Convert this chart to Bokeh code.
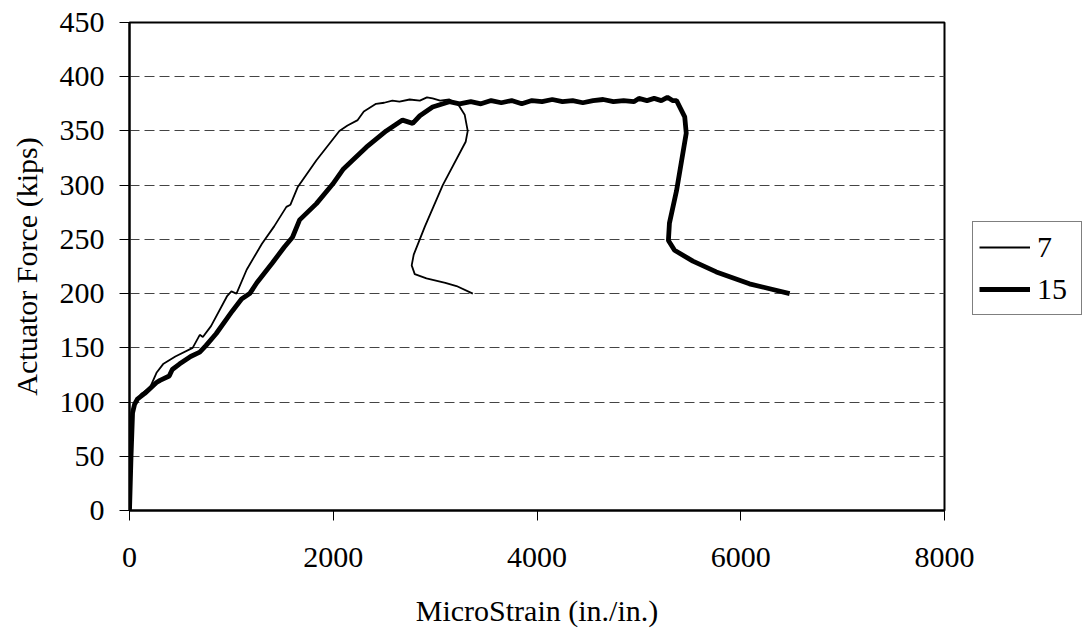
from bokeh.plotting import figure
from bokeh.models import Range1d, FixedTicker, Legend, LegendItem
from bokeh.embed import file_html
from bokeh.resources import INLINE

# ---- data ----
s7_x = [0, 10, 25, 40, 70, 120, 200, 265, 330, 450, 620, 690, 720, 800, 960, 1000, 1050,
        1150, 1300, 1420, 1540, 1580, 1650, 1835, 2060, 2140, 2240, 2300, 2420, 2500, 2580,
        2650, 2750, 2850, 2920, 2975, 3050, 3140, 3230, 3290, 3320, 3300, 3075, 2900, 2790,
        2770, 2800, 2915, 3100, 3210, 3370]
s7_y = [0, 40, 80, 95, 102, 108, 113, 127, 135, 142, 150, 162, 160, 170, 198, 202, 200,
        222, 246, 262, 280, 282, 298, 323, 350, 355, 360, 368, 375, 376, 378,
        377, 379, 378, 381, 380, 378, 379, 374, 365, 350, 340, 300, 262, 236,
        226, 218, 214, 210, 207, 200]

s15_x = [0, 15, 30, 50, 80, 150, 265, 300, 390, 420, 490, 600, 690, 750, 850, 1010, 1100,
         1180, 1250, 1400, 1520, 1600, 1670, 1835, 1995, 2100, 2190, 2325, 2520, 2680, 2780,
         2850, 2975, 3140, 3240, 3350, 3450, 3550, 3650, 3750, 3850, 3950, 4050, 4150, 4250,
         4350, 4450, 4550, 4650, 4750, 4850, 4950, 5000, 5080, 5150, 5220, 5280, 5330, 5370,
         5450, 5465, 5370, 5300, 5290, 5350, 5530, 5760, 6085, 6480]
s15_y = [0, 50, 90, 98, 103, 108, 118, 120, 124, 130, 135, 142, 146, 152, 163, 184, 195,
         200, 210, 228, 243, 252, 268, 283, 301, 315, 323, 335, 350, 360, 357,
         364, 372, 377, 375, 377, 375, 378, 376, 378, 375, 378, 377, 379, 377,
         378, 376, 378, 379, 377, 378, 377, 380, 378, 380, 378, 381, 378, 378,
         363, 348, 295, 265, 249, 240, 230, 220, 209, 200]

x_ticks = [0, 2000, 4000, 6000, 8000]
y_ticks = [0, 50, 100, 150, 200, 250, 300, 350, 400, 450]
series_names = ["7", "15"]

FONT = "Liberation Serif"

p = figure(frame_width=815, frame_height=488,
           min_border_left=129, min_border_right=140, min_border_top=22, min_border_bottom=110,
           x_range=Range1d(0, 8000), y_range=Range1d(0, 450),
           output_backend="svg", toolbar_location=None)
p.background_fill_color = "white"
p.border_fill_color = "white"
p.outline_line_color = "black"
p.outline_line_width = 2

r7 = p.line(s7_x, s7_y, line_color="black", line_width=1.8)
r15 = p.line(s15_x, s15_y, line_color="black", line_width=4.8)

p.xgrid.grid_line_color = None
p.ygrid.ticker = FixedTicker(ticks=y_ticks)
p.ygrid.grid_line_color = "#444444"
p.ygrid.grid_line_width = 1
p.ygrid.grid_line_dash = "10 5"

for ax in (p.xaxis[0], p.yaxis[0]):
    ax.axis_line_color = "black"
    ax.axis_line_width = 2
    ax.major_tick_line_color = "black"
    ax.major_tick_line_width = 1
    ax.major_tick_in = 0
    ax.major_tick_out = 10
    ax.minor_tick_line_color = None
    ax.major_label_text_font = FONT
    ax.major_label_text_font_size = "30px"
    ax.major_label_text_color = "black"
    ax.axis_label_text_font = FONT
    ax.axis_label_text_font_size = "30px"
    ax.axis_label_text_font_style = "normal"
    ax.axis_label_text_color = "black"

p.xaxis[0].ticker = FixedTicker(ticks=x_ticks)
p.yaxis[0].ticker = FixedTicker(ticks=y_ticks)
p.xaxis[0].axis_label = "MicroStrain (in./in.)"
p.yaxis[0].axis_label = "Actuator Force (kips)"
p.xaxis[0].major_label_standoff = 27
p.xaxis[0].axis_label_standoff = 24
p.yaxis[0].major_label_standoff = 15
p.yaxis[0].axis_label_standoff = 14

legend = Legend(items=[LegendItem(label=series_names[0], renderers=[r7]),
                       LegendItem(label=series_names[1], renderers=[r15])],
                location=(28, 195), orientation="vertical",
                border_line_color="black", border_line_width=1,
                background_fill_color="white", background_fill_alpha=1.0,
                padding=6, spacing=4, margin=0,
                glyph_width=51, glyph_height=38, label_height=38, label_width=38,
                label_standoff=7,
                label_text_font=FONT, label_text_font_size="30px", label_text_color="black")
p.add_layout(legend, "right")

open("out.html", "w").write(file_html(p, INLINE))
